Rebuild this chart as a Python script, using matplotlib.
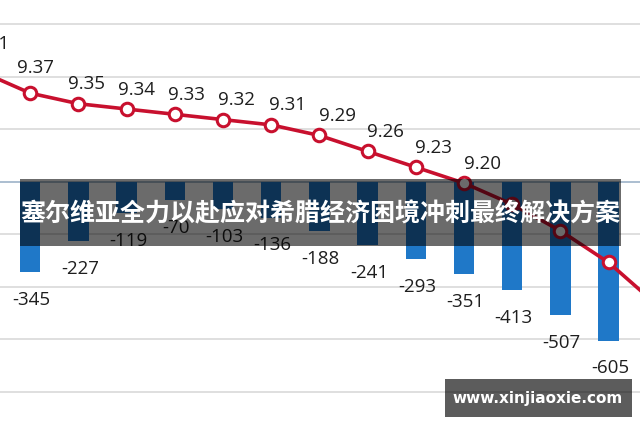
import numpy as np
import matplotlib
matplotlib.use('Agg')
from matplotlib import pyplot as plt
from matplotlib.patches import Rectangle

plt.rcParams['font.family'] = ['Open Sans', 'DejaVu Sans']

# line values (first and last points run past the picture edges)
rate = [9.41, 9.37, 9.35, 9.34, 9.33, 9.32, 9.31, 9.29, 9.26, 9.23, 9.20, 9.16, 9.11, 9.05, 8.97]
rate_labels = ['9.41', '9.37', '9.35', '9.34', '9.33', '9.32', '9.31', '9.29', '9.26', '9.23', '9.20',
               '', '', '', '']
# bar values, no bar visible for the first category
gap = [np.nan, -345, -227, -119, -70, -103, -136, -188, -241, -293, -351, -413, -507, -605, -725]

title = '塞尔维亚全力以赴应对希腊经济困境冲刺最终解决方案'
site = 'www.xinjiaoxie.com'

x = np.arange(len(rate))

fig = plt.figure(figsize=(6.4, 4.26), dpi=100)
ax = fig.add_axes([0, 0, 1, 1])
ax2 = ax.twinx()

# bars
ax.bar(x, gap, width=0.42, color='#1f78c8', zorder=2)
for xi, v in zip(x, gap):
    if np.isnan(v):
        continue
    ax.annotate(str(v), (xi, v), xytext=(1, -20), textcoords='offset points',
                ha='center', va='center', fontsize=13.5, color='#1e1e1e', zorder=3,
                annotation_clip=False)

ax.set_xlim(18 / 48.2, 658 / 48.2)
ax.set_ylim(-930, 693)
ax.set_yticks([600, 400, 200, -200, -400, -600, -800])
ax.grid(axis='y', color='#d9d9d9', lw=1.2, zorder=0)
ax.axhline(0, color='#9db3c8', lw=1.2, zorder=1)
ax.set_xticks([])
ax.tick_params(left=False, labelleft=False)
for s in ax.spines.values():
    s.set_visible(False)

# line
ax2.plot(x, rate, color='#c8102e', lw=2.6, marker='o', ms=9, mfc='white',
         mec='#c8102e', mew=2.2, zorder=4)
for i, (xi, v, lab) in enumerate(zip(x, rate, rate_labels)):
    if not lab:
        continue
    dx = 4 + 9 * min(max(i - 1, 0), 6) / 6
    dy = 14
    if i == 0:
        dx, dy = 6, 20
    elif i == 1:
        dy = 18
    ax2.annotate(lab, (xi, v), xytext=(dx, dy), textcoords='offset points',
                 ha='center', va='center', fontsize=13.5, color='#1e1e1e',
                 annotation_clip=False)
ax2.set_ylim(8.741, 9.546)
ax2.set_yticks([])
for s in ax2.spines.values():
    s.set_visible(False)

# title banner over the chart
fig.patches.append(Rectangle((20 / 640, 1 - 246 / 426), 601 / 640, 67 / 426,
                             transform=fig.transFigure, facecolor='black',
                             alpha=0.58, edgecolor='none', zorder=10))
fig.text(320 / 640, 1 - 214 / 426, title, ha='center', va='center', color='white',
         fontsize=18, fontweight='bold', family=['Noto Sans CJK SC', 'DejaVu Sans'],
         zorder=11)

# watermark
fig.patches.append(Rectangle((445 / 640, 1 - 417 / 426), 187 / 640, 38 / 426,
                             transform=fig.transFigure, facecolor='black',
                             alpha=0.64, edgecolor='none', zorder=10))
fig.text(538 / 640, 1 - 398 / 426, site, ha='center', va='center', color='white',
         fontsize=11, fontweight='bold', family='DejaVu Sans', zorder=11)

fig.savefig('out.png', dpi=100)
